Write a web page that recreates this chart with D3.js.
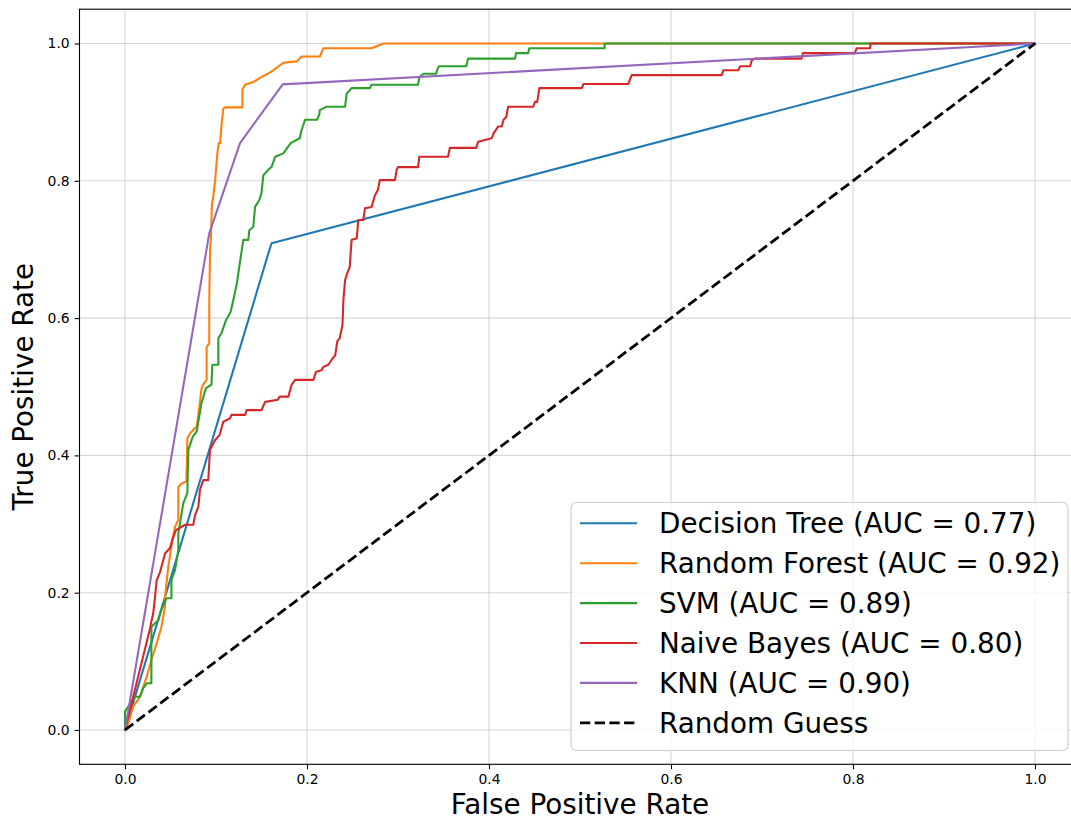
<!DOCTYPE html>
<html>
<head>
<meta charset="utf-8">
<script src="https://cdn.jsdelivr.net/npm/d3@7"></script>
<style>
  body { margin: 0; background: #fff; }
  svg { font-family: "DejaVu Sans", sans-serif; display: block; }
</style>
</head>
<body>
<div id="chart"></div>
<script>
// ROC points: [fpr, tpr]
const decisionTree = [[0, 0], [0.1575, 0.694], [0.161, 0.709], [1, 1]];

const randomForest = [
  [0, 0], [0.0037, 0.0097], [0.009, 0.034], [0.0165, 0.0485], [0.024, 0.078], [0.029, 0.102],
  [0.0348, 0.126], [0.040, 0.150], [0.044, 0.18], [0.044, 0.194], [0.0476, 0.238], [0.0524, 0.279],
  [0.055, 0.296], [0.0586, 0.306], [0.0586, 0.354], [0.0622, 0.359], [0.0675, 0.362], [0.0685, 0.425],
  [0.0714, 0.432], [0.0788, 0.442], [0.0817, 0.471], [0.0842, 0.498], [0.0868, 0.505], [0.0897, 0.51],
  [0.0897, 0.558], [0.0926, 0.563], [0.0926, 0.626], [0.0935, 0.70], [0.0945, 0.72], [0.0955, 0.765],
  [0.097, 0.777], [0.099, 0.80], [0.1015, 0.84], [0.103, 0.855], [0.1045, 0.855], [0.106, 0.88],
  [0.108, 0.905], [0.110, 0.907], [0.129, 0.907], [0.129, 0.933], [0.132, 0.94], [0.141, 0.944],
  [0.150, 0.951], [0.161, 0.959], [0.174, 0.972], [0.189, 0.974], [0.194, 0.981], [0.214, 0.981],
  [0.218, 0.993], [0.271, 0.993], [0.284, 1.0], [1, 1]
];

const svm = [
  [0, 0], [0, 0.027], [0.011, 0.0485], [0.0165, 0.0485], [0.020, 0.061], [0.024, 0.068], [0.029, 0.068],
  [0.029, 0.150], [0.031, 0.153], [0.0366, 0.160], [0.040, 0.175], [0.0458, 0.192], [0.051, 0.192],
  [0.051, 0.2185], [0.055, 0.233], [0.0586, 0.262], [0.0586, 0.286], [0.064, 0.33], [0.0685, 0.345],
  [0.0696, 0.408], [0.0744, 0.427], [0.0788, 0.435], [0.084, 0.476], [0.089, 0.498], [0.095, 0.503],
  [0.096, 0.532], [0.1026, 0.532], [0.1026, 0.571], [0.106, 0.578], [0.111, 0.597], [0.116, 0.609],
  [0.119, 0.626], [0.123, 0.651], [0.1256, 0.675], [0.130, 0.714], [0.1355, 0.714], [0.1366, 0.728],
  [0.141, 0.733], [0.1429, 0.762], [0.1476, 0.772], [0.150, 0.782], [0.152, 0.808], [0.1575, 0.816],
  [0.161, 0.820], [0.165, 0.835], [0.174, 0.840], [0.182, 0.855], [0.192, 0.862], [0.194, 0.874],
  [0.198, 0.889], [0.211, 0.889], [0.2135, 0.896], [0.214, 0.903], [0.2216, 0.908], [0.2418, 0.908],
  [0.2436, 0.927], [0.249, 0.935], [0.269, 0.935], [0.271, 0.940], [0.322, 0.940], [0.3235, 0.951],
  [0.328, 0.956], [0.342, 0.956], [0.343, 0.961], [0.345, 0.967], [0.375, 0.967], [0.377, 0.978],
  [0.4286, 0.978], [0.4297, 0.986], [0.443, 0.986], [0.4443, 0.993], [0.527, 0.993], [0.527, 1.0], [1, 1]
];

const naiveBayes = [
  [0, 0], [0.0275, 0.148], [0.029, 0.158], [0.031, 0.17], [0.033, 0.194], [0.0348, 0.218], [0.0385, 0.23],
  [0.044, 0.257], [0.0495, 0.265], [0.052, 0.277], [0.056, 0.291], [0.062, 0.296], [0.066, 0.299],
  [0.075, 0.299], [0.077, 0.313], [0.0806, 0.325], [0.0824, 0.35], [0.086, 0.364], [0.0915, 0.364],
  [0.0934, 0.408], [0.0989, 0.422], [0.104, 0.43], [0.108, 0.449], [0.1154, 0.454], [0.117, 0.459],
  [0.132, 0.459], [0.1337, 0.466], [0.150, 0.466], [0.154, 0.478], [0.168, 0.481], [0.170, 0.4856],
  [0.1795, 0.4856], [0.183, 0.5026], [0.187, 0.51], [0.207, 0.51], [0.21, 0.522], [0.216, 0.524],
  [0.218, 0.529], [0.2235, 0.532], [0.227, 0.539], [0.231, 0.546], [0.2333, 0.566], [0.236, 0.571],
  [0.239, 0.59], [0.240, 0.626], [0.2418, 0.655], [0.2436, 0.663], [0.247, 0.675], [0.249, 0.714],
  [0.2546, 0.716], [0.2564, 0.743], [0.262, 0.743], [0.2637, 0.76], [0.271, 0.762], [0.2747, 0.779],
  [0.278, 0.787], [0.280, 0.801], [0.2967, 0.801], [0.2985, 0.816], [0.3, 0.82], [0.322, 0.82],
  [0.3235, 0.835], [0.355, 0.835], [0.357, 0.848], [0.386, 0.848], [0.388, 0.857], [0.403, 0.862],
  [0.405, 0.869], [0.41, 0.879], [0.414, 0.879], [0.416, 0.889], [0.419, 0.893], [0.421, 0.908],
  [0.4487, 0.908], [0.4505, 0.915], [0.453, 0.915], [0.4553, 0.935], [0.502, 0.935], [0.5037, 0.941],
  [0.553, 0.941], [0.5568, 0.954], [0.6557, 0.954], [0.6575, 0.961], [0.674, 0.961], [0.676, 0.967],
  [0.687, 0.967], [0.6886, 0.975], [0.692, 0.978], [0.7436, 0.978], [0.745, 0.986], [0.802, 0.986],
  [0.804, 0.993], [0.8187, 0.993], [0.8194, 1.0], [1, 1]
];

const knn = [[0, 0], [0.0926, 0.7235], [0.1264, 0.855], [0.1733, 0.9405], [1, 1]];

const randomGuess = [[0, 0], [1, 1]];

const modelNames = ["Decision Tree", "Random Forest", "SVM", "Naive Bayes", "KNN"];
const aucValues = [0.77, 0.92, 0.89, 0.80, 0.90];
const modelCurves = [decisionTree, randomForest, svm, naiveBayes, knn];
const modelColors = ["#1f77b4", "#ff7f0e", "#2ca02c", "#d62728", "#9467bd"];
const tickValues = [0, 0.2, 0.4, 0.6, 0.8, 1.0];

function draw_roc_chart(selector) {
    const width = 1071, height = 821;
    const left = 79.5, right = 1080.5, top = 9.2, bottom = 764.3;

    const svg = d3.select(selector)
        .append("svg")
        .attr("width", width)
        .attr("height", height);

    const x = d3.scaleLinear().domain([-0.05, 1.05]).range([left, right]);
    const y = d3.scaleLinear().domain([-0.05, 1.05]).range([bottom, top]);

    // grid
    const grid = svg.append("g")
        .attr("stroke", "#b0b0b0")
        .attr("stroke-opacity", 0.5)
        .attr("stroke-width", 1.1);
    grid.selectAll("line.vx")
        .data(tickValues)
        .join("line")
        .attr("x1", d => x(d)).attr("x2", d => x(d))
        .attr("y1", top).attr("y2", bottom);
    grid.selectAll("line.hy")
        .data(tickValues)
        .join("line")
        .attr("class", "hy")
        .attr("x1", left).attr("x2", right)
        .attr("y1", d => y(d)).attr("y2", d => y(d));

    const line = d3.line()
        .x(d => x(d[0]))
        .y(d => y(d[1]));

    svg.append("g")
        .attr("fill", "none")
        .attr("stroke-width", 2.08)
        .attr("stroke-linejoin", "round")
        .attr("stroke-linecap", "square")
        .selectAll("path")
        .data(modelCurves)
        .join("path")
        .attr("stroke", (d, i) => modelColors[i])
        .attr("d", line);

    svg.append("path")
        .datum(randomGuess)
        .attr("fill", "none")
        .attr("stroke", "#000")
        .attr("stroke-width", 2.78)
        .attr("stroke-dasharray", "10.3,4.4")
        .attr("d", line);

    // axes
    const fmt = d3.format(".1f");
    const xAxis = svg.append("g")
        .attr("transform", `translate(0,${bottom})`)
        .call(d3.axisBottom(x).tickValues(tickValues).tickFormat(fmt).tickSize(4.9).tickPadding(4.9));
    const yAxis = svg.append("g")
        .attr("transform", `translate(${left},0)`)
        .call(d3.axisLeft(y).tickValues(tickValues).tickFormat(fmt).tickSize(4.9).tickPadding(4.9));
    [xAxis, yAxis].forEach(a => {
        a.select(".domain").remove();
        a.selectAll(".tick line").attr("stroke", "#000").attr("stroke-width", 1.1);
        a.selectAll(".tick text")
            .attr("fill", "#000")
            .style("font-size", "13.9px")
            .style("font-family", "DejaVu Sans");
    });

    svg.append("rect")
        .attr("x", left).attr("y", top)
        .attr("width", right - left).attr("height", bottom - top)
        .attr("fill", "none")
        .attr("stroke", "#000")
        .attr("stroke-width", 1.1);

    svg.append("text")
        .attr("x", (left + right) / 2)
        .attr("y", 814.3)
        .attr("text-anchor", "middle")
        .style("font-size", "27.8px")
        .text("False Positive Rate");

    svg.append("text")
        .attr("transform", `translate(33,${(top + bottom) / 2}) rotate(-90)`)
        .attr("text-anchor", "middle")
        .style("font-size", "27.8px")
        .text("True Positive Rate");

    // legend
    const legendItems = modelNames.map((n, i) => ({
        label: `${n} (AUC = ${aucValues[i].toFixed(2)})`,
        color: modelColors[i],
        dash: null
    }));
    legendItems.push({ label: "Random Guess", color: "#000", dash: "10.3,4.4" });

    const lg = svg.append("g");
    lg.append("rect")
        .attr("x", 571).attr("y", 502.5)
        .attr("width", 497).attr("height", 248)
        .attr("rx", 5.4)
        .attr("fill", "#fff")
        .attr("fill-opacity", 0.8)
        .attr("stroke", "#cccccc")
        .attr("stroke-width", 1.1);

    const row = lg.selectAll("g.row")
        .data(legendItems)
        .join("g")
        .attr("transform", (d, i) => `translate(0,${523.3 + i * 39.9})`);
    row.append("line")
        .attr("x1", 580).attr("x2", 637)
        .attr("stroke", d => d.color)
        .attr("stroke-width", (d) => d.dash ? 2.78 : 2.08)
        .attr("stroke-dasharray", d => d.dash);
    row.append("text")
        .attr("x", 659)
        .attr("dy", "0.36em")
        .style("font-size", "27.8px")
        .attr("fill", "#000")
        .text(d => d.label);

    return svg.node();
}

draw_roc_chart("#chart");
</script>
</body>
</html>
